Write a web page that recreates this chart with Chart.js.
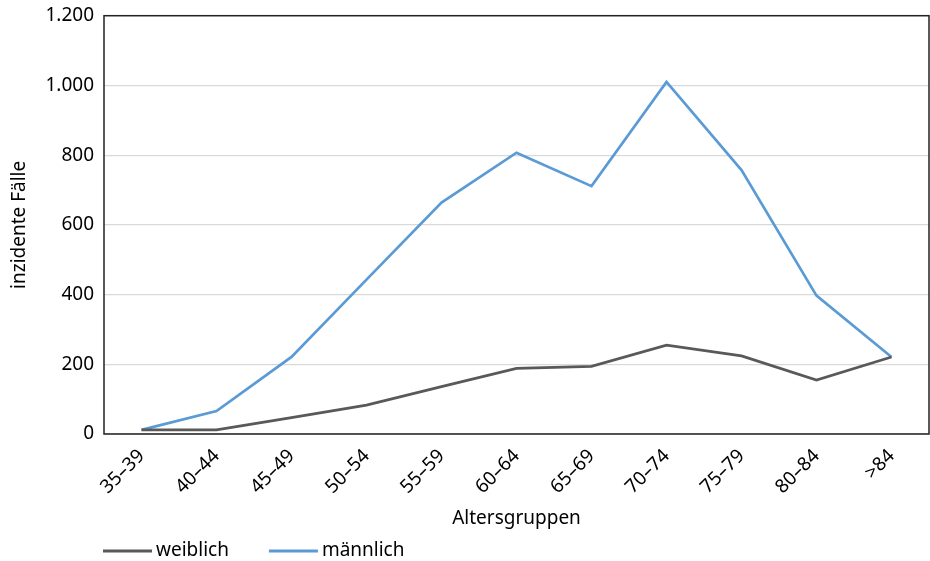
<!DOCTYPE html>
<html>
<head>
<meta charset="utf-8">
<script src="https://cdn.jsdelivr.net/npm/chart.js@4.4.1/dist/chart.umd.min.js"></script>
<style>
  html, body { margin: 0; padding: 0; background: #fff; }
  #wrap { width: 930px; height: 561px; }
</style>
</head>
<body>
<div id="wrap"><canvas id="chart" width="930" height="561"></canvas></div>
<script>
// Altersgruppen und inzidente Fälle
const categories = ['35–39', '40–44', '45–49', '50–54', '55–59', '60–64', '65–69', '70–74', '75–79', '80–84', '>84'];
const weiblich = [12, 12, 47, 83, 136, 188, 194, 255, 224, 155, 221];
const maennlich = [12, 66, 221, 443, 664, 807, 711, 1010, 757, 397, 221];
const yTicks = [0, 200, 400, 600, 800, 1000, 1200];

const FONT = '"Noto Sans", sans-serif';
const FSIZE = 19;

// Rahmen um den Plotbereich
const boxPlugin = {
  id: 'box',
  afterDraw(chart) {
    const a = chart.chartArea, c = chart.ctx;
    c.save();
    c.strokeStyle = '#222';
    c.lineWidth = 1.5;
    c.strokeRect(a.left, a.top, a.right - a.left, a.bottom - a.top);
    c.restore();
  }
};

// Legende unten links, am Plotbereich ausgerichtet
const legendPlugin = {
  id: 'myLegend',
  afterDraw(chart) {
    const c = chart.ctx;
    const y = 551;
    let x = chart.chartArea.left - 1;
    c.save();
    c.font = FSIZE + 'px ' + FONT;
    c.textBaseline = 'middle';
    chart.data.datasets.forEach(ds => {
      c.strokeStyle = ds.borderColor;
      c.lineWidth = 3;
      c.beginPath();
      c.moveTo(x, y);
      c.lineTo(x + 49, y);
      c.stroke();
      c.fillStyle = '#000';
      c.fillText(ds.label, x + 53, y);
      x += 53 + c.measureText(ds.label).width + 40;
    });
    c.restore();
  }
};

new Chart(document.getElementById('chart'), {
  type: 'line',
  data: {
    labels: categories,
    datasets: [
      { label: 'weiblich', data: weiblich, borderColor: '#595959', backgroundColor: '#595959', borderWidth: 2.7, pointRadius: 0, tension: 0 },
      { label: 'männlich', data: maennlich, borderColor: '#5b9bd5', backgroundColor: '#5b9bd5', borderWidth: 2.7, pointRadius: 0, tension: 0 }
    ]
  },
  options: {
    responsive: false,
    animation: false,
    layout: { padding: { top: 15, right: 1, bottom: 30, left: 8 } },
    plugins: {
      legend: { display: false },
      tooltip: { enabled: false }
    },
    scales: {
      x: {
        offset: true,
        grid: { display: false, drawTicks: false },
        border: { display: false },
        ticks: { color: '#000', font: { family: FONT, size: FSIZE }, maxRotation: 45, minRotation: 45, padding: 11 },
        title: { display: true, text: 'Altersgruppen', color: '#000', font: { family: FONT, size: FSIZE }, padding: { top: 0, bottom: 1 } },
        afterFit(s) { s.height = 97; }
      },
      y: {
        min: 0, max: 1200,
        afterBuildTicks(s) { s.ticks = yTicks.map(v => ({ value: v })); },
        grid: { color: '#d9d9d9', lineWidth: 1.2, drawTicks: false },
        border: { display: false },
        ticks: {
          color: '#000', font: { family: FONT, size: FSIZE, lineHeight: 0.6 }, padding: 10,
          callback: v => v.toLocaleString('de-DE')
        },
        title: { display: true, text: 'inzidente Fälle', color: '#000', font: { family: FONT, size: FSIZE }, padding: { top: 0, bottom: 4 } },
        afterFit(s) { s.width = 96; }
      }
    }
  },
  plugins: [boxPlugin, legendPlugin]
});
</script>
</body>
</html>
